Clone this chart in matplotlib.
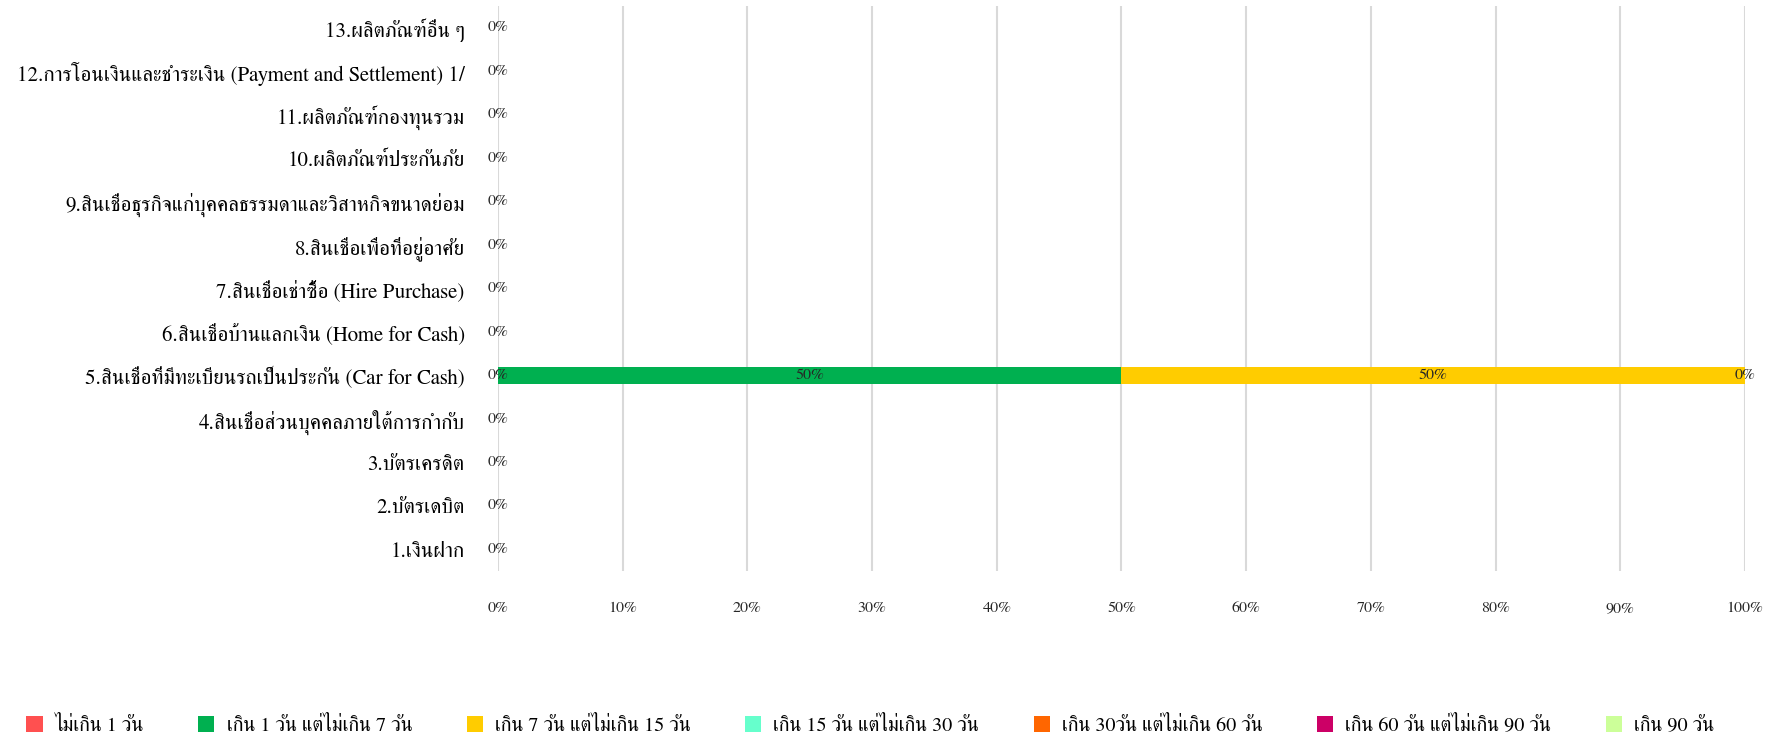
import matplotlib
matplotlib.use("Agg")
import matplotlib.pyplot as plt
import numpy as np
from matplotlib.ticker import PercentFormatter

# ---------------- data ----------------
categories = [
    "1.เงินฝาก",
    "2.บัตรเดบิต",
    "3.บัตรเครดิต",
    "4.สินเชื่อส่วนบุคคลภายใต้การกำกับ",
    "5.สินเชื่อที่มีทะเบียนรถเป็นประกัน (Car for Cash)",
    "6.สินเชื่อบ้านแลกเงิน (Home for Cash)",
    "7.สินเชื่อเช่าซื้อ (Hire Purchase)",
    "8.สินเชื่อเพื่อที่อยู่อาศัย",
    "9.สินเชื่อธุรกิจแก่บุคคลธรรมดาและวิสาหกิจขนาดย่อม",
    "10.ผลิตภัณฑ์ประกันภัย",
    "11.ผลิตภัณฑ์กองทุนรวม",
    "12.การโอนเงินและชำระเงิน (Payment and Settlement) 1/",
    "13.ผลิตภัณฑ์อื่น ๆ",
]
series_names = [
    "ไม่เกิน 1 วัน",
    "เกิน 1 วัน แต่ไม่เกิน 7 วัน",
    "เกิน 7 วัน แต่ไม่เกิน 15 วัน",
    "เกิน 15 วัน แต่ไม่เกิน 30 วัน",
    "เกิน 30วัน แต่ไม่เกิน 60 วัน",
    "เกิน 60 วัน แต่ไม่เกิน 90 วัน",
    "เกิน 90 วัน",
]
s1 = [0, 0, 0, 0, 0.0, 0, 0, 0, 0, 0, 0, 0, 0]
s2 = [0, 0, 0, 0, 0.5, 0, 0, 0, 0, 0, 0, 0, 0]
s3 = [0, 0, 0, 0, 0.5, 0, 0, 0, 0, 0, 0, 0, 0]
s4 = [0, 0, 0, 0, 0.0, 0, 0, 0, 0, 0, 0, 0, 0]
s5 = [0, 0, 0, 0, 0.0, 0, 0, 0, 0, 0, 0, 0, 0]
s6 = [0, 0, 0, 0, 0.0, 0, 0, 0, 0, 0, 0, 0, 0]
s7 = [0, 0, 0, 0, 0.0, 0, 0, 0, 0, 0, 0, 0, 0]
series_values = [s1, s2, s3, s4, s5, s6, s7]
colors = ["#FF5050", "#00B050", "#FFCC00", "#66FFCC", "#FF6600", "#CC0066", "#CCFF99"]
x_ticks = [0, 0.1, 0.2, 0.3, 0.4, 0.5, 0.6, 0.7, 0.8, 0.9, 1.0]

plt.rcParams["font.family"] = ["FreeSerif", "Noto Serif Thai", "DejaVu Serif", "DejaVu Sans"]

# ---------------- figure ----------------
fig = plt.figure(figsize=(17.76, 7.36), dpi=100)
ax = fig.add_axes([0.2804, 0.2242, 0.7021, 0.7676])
y = np.arange(len(categories))
left = np.zeros(len(categories))
txt = "#262626"
small = 11.5
seen = set()
for name, vals, c in zip(series_names, series_values, colors):
    vals = np.array(vals, dtype=float)
    ax.barh(y, vals, left=left, height=0.4, color=c, label=name, zorder=2)
    for yi, (l, v) in enumerate(zip(left, vals)):
        xc = l + v / 2
        key = (yi, round(xc, 4), round(v, 4))
        if key in seen:
            continue
        seen.add(key)
        ax.text(xc, yi, f"{v*100:.0f}%", ha="center", va="center",
                fontsize=small, color=txt, zorder=3)
    left = left + vals

ax.set_xlim(0, 1)
ax.set_ylim(-0.5, len(categories) - 0.5)
ax.set_xticks(x_ticks)
ax.xaxis.set_major_formatter(PercentFormatter(1.0, decimals=0))
ax.set_yticks(y)
ax.set_yticklabels(categories)
ax.tick_params(axis="y", length=0, pad=24, labelsize=15, labelcolor="black")
ax.tick_params(axis="x", length=0, pad=22, labelsize=small, labelcolor=txt)
ax.grid(axis="x", color="#D9D9D9", linewidth=1.5, zorder=0)
ax.set_axisbelow(True)
for s in ax.spines.values():
    s.set_visible(False)

fig.legend(loc="center", bbox_to_anchor=(0.49, 0.015), ncol=7, frameon=False,
           fontsize=14.5, handlelength=0.8, handleheight=0.8,
           handletextpad=0.6, columnspacing=2.7)

fig.savefig("out.png", dpi=100, facecolor="white")
